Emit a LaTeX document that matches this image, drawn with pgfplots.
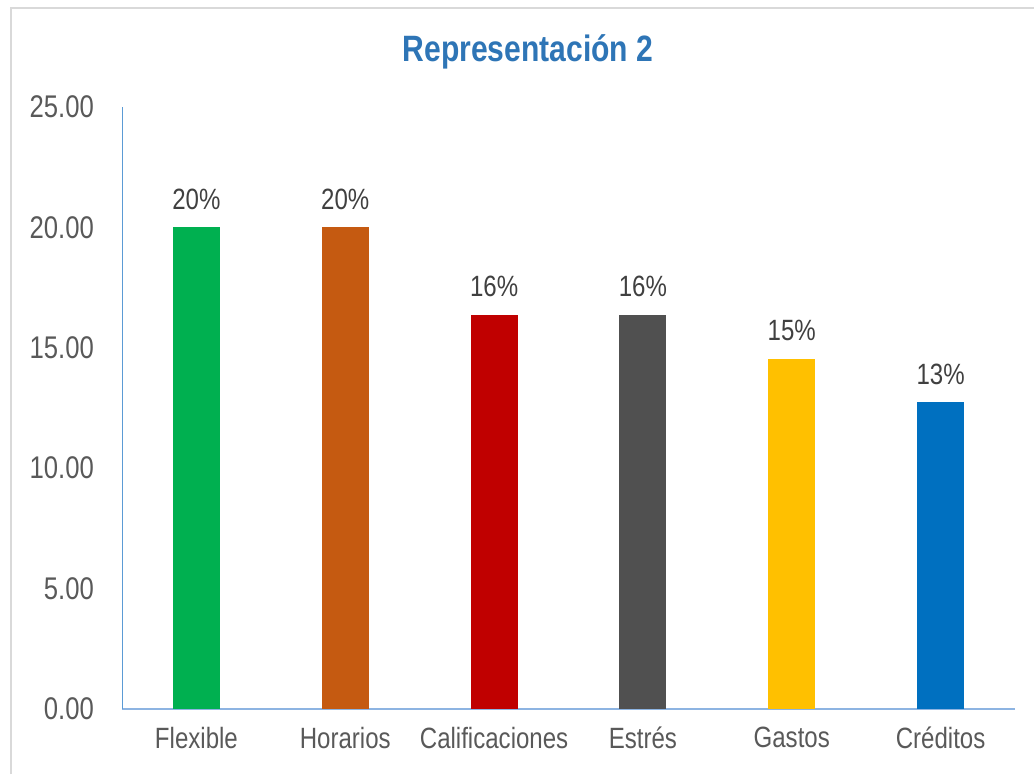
\documentclass[border=0pt]{standalone}
\usepackage{fontspec}
\setmainfont{Liberation Sans}[FakeStretch=0.82]
\usepackage{pgfplots}
\pgfplotsset{compat=1.18}
\definecolor{cgreen}{HTML}{00B050}
\definecolor{corange}{HTML}{C55A11}
\definecolor{cred}{HTML}{C00000}
\definecolor{cgray}{HTML}{505050}
\definecolor{cyellow}{HTML}{FFC000}
\definecolor{cblue}{HTML}{0070C0}
\definecolor{titleblue}{HTML}{2E75B6}
\definecolor{labelgray}{HTML}{595959}
\definecolor{datagray}{HTML}{404040}
\definecolor{xaxcol}{HTML}{8DB4E2}
\definecolor{yaxcol}{HTML}{5B9BD5}
\definecolor{framegray}{HTML}{D9D9D9}
\begin{document}
\begin{tikzpicture}[x=0.75pt,y=0.75pt]
\useasboundingbox (0,0) rectangle (1034,774);
\draw[color=framegray, line width=1.2pt] (11,0) -- (11,766) -- (1034,766);
\node[anchor=base, font=\fontsize{27.5}{30}\selectfont\bfseries, text=titleblue] at (528,712) {Representación 2};
\begin{axis}[
  at={(91.5pt,48.75pt)}, anchor=south west,
  scale only axis, width=669.75pt, height=451.5pt,
  xmin=-0.5, xmax=5.5, ymin=0, ymax=25,
  ytick={0,5,10,15,20,25},
  xtick={0,1,2,3,4,5},
  xticklabels={Flexible,Horarios,Calificaciones,Estrés,Gastos,Créditos},
  axis x line*=bottom, axis y line*=left,
  x axis line style={draw=xaxcol, line width=1.1pt, -},
  y axis line style={draw=yaxcol, line width=0.75pt, -},
  major tick length=0pt,
  tick label style={font=\fontsize{22}{24}\selectfont, text=labelgray},
  yticklabel style={font=\fontsize{23.5}{26}\selectfont, xshift=-17.5pt, /pgf/number format/.cd, fixed, fixed zerofill, precision=2},
  xticklabel style={yshift=-10pt},
  /pgf/number format/assume math mode=true,
  scaled y ticks=false,
  ybar, bar width=35.25pt, bar shift=0pt,
  clip=false,
  nodes near coords,
  point meta=explicit symbolic,
  nodes near coords style={font=\fontsize{22}{24}\selectfont, text=datagray, yshift=10pt},
]
\addplot[fill=cgreen, draw=none] coordinates {(0,20.00) [20\%]};
\addplot[fill=corange, draw=none] coordinates {(1,20.00) [20\%]};
\addplot[fill=cred, draw=none] coordinates {(2,16.36) [16\%]};
\addplot[fill=cgray, draw=none] coordinates {(3,16.36) [16\%]};
\addplot[fill=cyellow, draw=none] coordinates {(4,14.55) [15\%]};
\addplot[fill=cblue, draw=none] coordinates {(5,12.73) [13\%]};
\end{axis}
\end{tikzpicture}
\end{document}
